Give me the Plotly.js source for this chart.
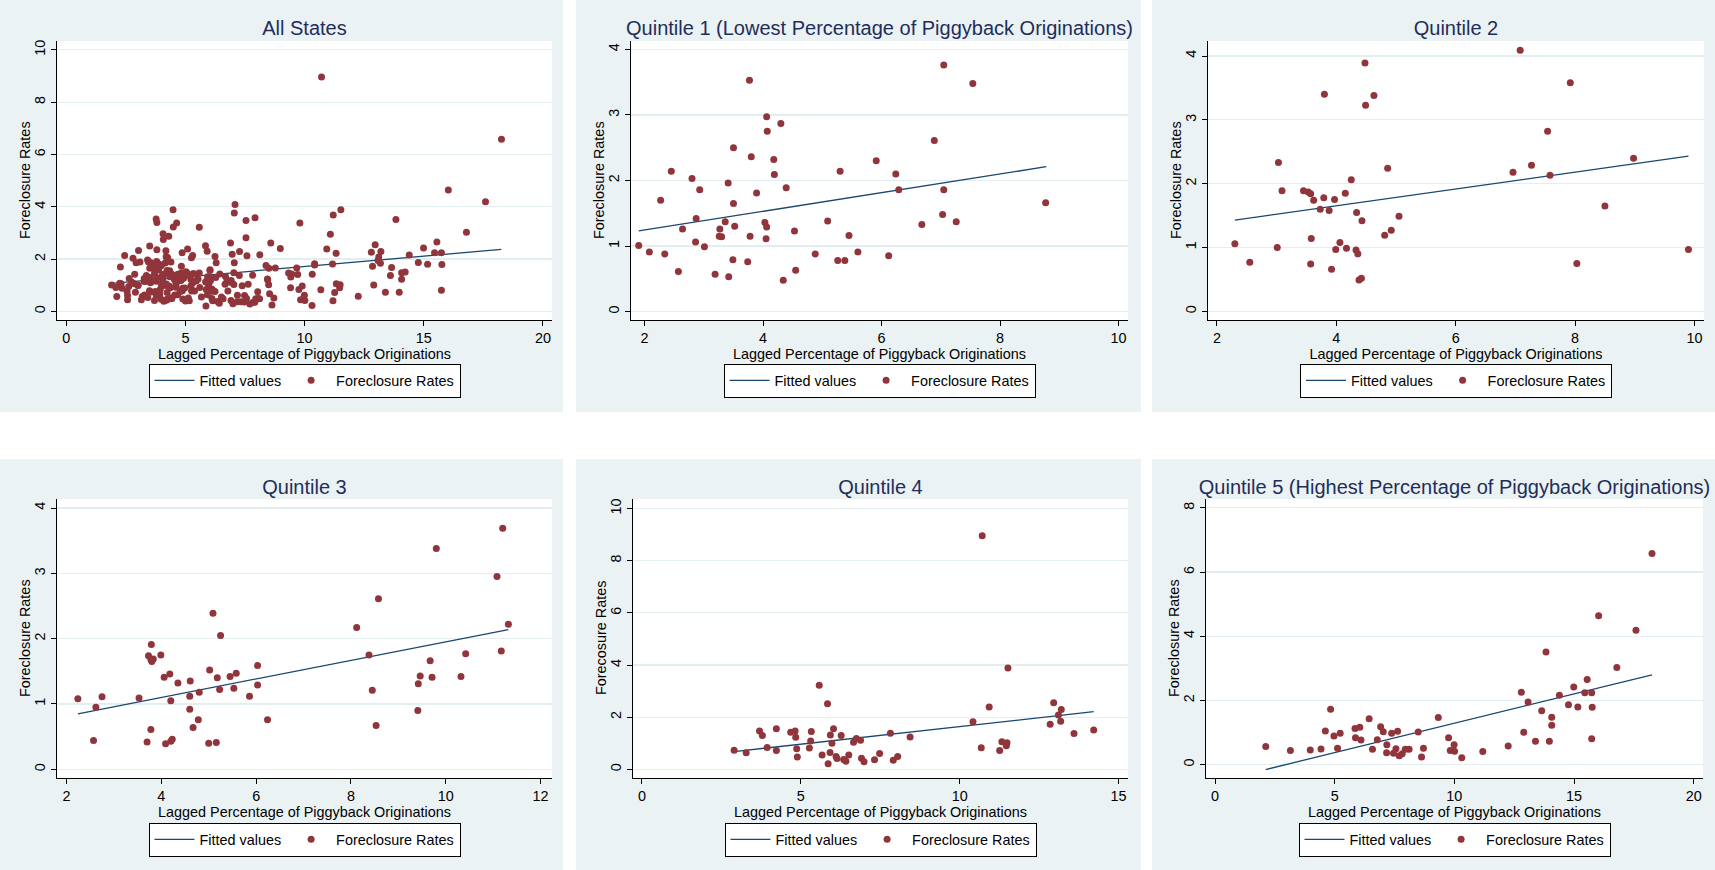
<!DOCTYPE html>
<html>
<head>
<meta charset="utf-8">
<script src="https://cdn.plot.ly/plotly-3.0.1.min.js"></script>
<style>
html,body{margin:0;padding:0;background:#ffffff;width:1715px;height:870px;overflow:hidden;}
.p{position:absolute;}
</style>
</head>
<body>
<div id="p1" class="p"></div>
<div id="p2" class="p"></div>
<div id="p3" class="p"></div>
<div id="p4" class="p"></div>
<div id="p5" class="p"></div>
<div id="p6" class="p"></div>
<script>
// ---------------- DATA ----------------
const panelTitles = ["All States",
  "Quintile 1 (Lowest Percentage of Piggyback Originations)",
  "Quintile 2", "Quintile 3", "Quintile 4",
  "Quintile 5 (Highest Percentage of Piggyback Originations)"];
const xAxisTitle = "Lagged Percentage of Piggyback Originations";
const yAxisTitles = ["Foreclosure Rates", "Foreclosure Rates", "Foreclosure Rates",
  "Foreclosure Rates", "Forecosure Rates", "Foreclosure Rates"];
const legendNames = ["Fitted values", "Foreclosure Rates"];

const q1x = [1.90,2.08,2.27,2.34,2.45,2.57,2.64,2.80,2.86,2.87,2.93,3.01,3.19,3.27,3.26,3.30,3.36,3.41,3.42,3.49,3.50,3.50,3.52,3.74,3.77,3.78,3.80,3.89,4.03,4.06,4.05,4.06,4.07,4.18,4.19,4.30,4.34,4.39,4.53,4.55,4.88,5.09,5.26,5.30,5.38,5.45,5.60,5.91,6.12,6.24,6.29,6.68,6.89,7.03,7.05,7.05,7.26,7.54,8.77];
const q1y = [1.01,0.91,1.70,0.88,2.14,0.61,1.26,2.03,1.06,1.42,1.86,0.99,0.57,1.26,1.15,1.14,1.37,1.96,0.53,0.79,1.65,2.50,1.30,0.76,3.53,1.15,2.36,1.81,1.36,1.29,1.11,2.97,2.75,2.32,2.09,2.87,0.48,1.89,1.23,0.63,0.88,1.38,0.78,2.14,0.78,1.16,0.91,2.30,0.85,2.10,1.86,1.33,2.61,1.48,1.86,3.76,1.37,3.48,1.66];

const q2x = [2.30,2.55,3.01,3.03,3.09,3.45,3.53,3.57,3.58,3.57,3.62,3.73,3.79,3.80,3.88,3.92,3.97,3.99,4.06,4.15,4.17,4.25,4.33,4.34,4.36,4.38,4.42,4.43,4.48,4.49,4.63,4.81,4.86,4.92,5.05,6.96,7.08,7.27,7.54,7.58,7.92,8.03,8.50,8.98,9.90];
const q2y = [1.06,0.77,1.00,2.33,1.89,1.89,1.87,1.84,1.14,0.74,1.74,1.60,1.78,3.40,1.58,0.66,1.75,0.97,1.08,1.85,0.99,2.06,0.96,1.55,0.90,0.49,0.52,1.42,3.89,3.23,3.38,1.19,2.24,1.27,1.49,2.18,4.09,2.29,2.82,2.13,3.58,0.75,1.65,2.40,0.97];

const q3x = [2.24,2.57,2.62,2.75,3.53,3.70,3.73,3.78,3.79,3.80,3.83,3.78,3.99,4.06,4.09,4.18,4.20,4.20,4.23,4.35,4.61,4.60,4.60,4.67,4.78,4.80,5.00,5.02,5.09,5.16,5.18,5.23,5.25,5.45,5.53,5.58,5.86,6.03,6.03,6.24,8.12,8.38,8.45,8.53,8.58,9.41,9.42,9.46,9.67,9.71,9.80,10.32,10.42,11.08,11.17,11.20,11.32];
const q3y = [1.08,0.44,0.95,1.11,1.09,0.42,1.74,0.61,1.91,1.65,1.69,1.68,1.75,1.41,0.39,1.46,1.05,0.43,0.46,1.32,1.35,1.12,0.92,0.64,0.76,1.18,0.40,1.52,2.39,0.41,1.40,1.22,2.05,1.42,1.24,1.47,1.12,1.29,1.59,0.76,2.17,1.75,1.21,0.67,2.61,0.90,1.31,1.43,1.66,1.41,3.38,1.42,1.77,2.95,1.81,3.69,2.22];

const q4x = [2.90,3.28,3.70,3.79,3.94,4.23,4.23,4.68,4.82,4.84,4.87,4.89,5.27,5.31,5.33,5.58,5.67,5.84,5.86,5.92,5.93,5.98,6.03,6.11,6.14,6.27,6.35,6.42,6.51,6.66,6.75,6.88,6.91,6.99,7.32,7.48,7.82,7.91,8.05,8.44,10.42,10.68,10.71,10.93,11.26,11.33,11.47,11.49,11.52,12.85,12.96,13.11,13.18,13.20,13.60,14.22];
const q4y = [0.73,0.63,1.47,1.30,0.84,1.56,0.72,1.42,1.47,1.23,0.79,0.47,0.82,1.09,1.45,3.22,0.55,2.51,0.21,0.64,1.32,1.00,1.56,0.49,0.41,1.30,0.38,0.31,0.55,1.04,1.18,1.11,0.42,0.29,0.37,0.61,1.38,0.35,0.49,1.24,1.82,0.83,8.96,2.39,0.72,1.06,0.90,1.02,3.89,1.73,2.55,2.08,1.84,2.29,1.37,1.51];

const q5x = [2.12,3.15,3.98,4.43,4.61,4.83,4.97,5.12,5.23,5.85,5.87,6.05,6.10,6.44,6.58,6.78,6.92,7.03,7.18,7.17,7.38,7.46,7.56,7.63,7.70,7.82,7.95,8.11,8.49,8.63,8.71,9.33,9.76,9.83,9.99,10.01,10.31,11.19,12.25,12.80,12.90,13.08,13.39,13.65,13.83,13.97,14.07,14.07,14.39,14.77,14.99,15.16,15.45,15.55,15.74,15.76,15.74,16.03,16.79,17.59,18.26];
const q5y = [0.57,0.44,0.46,0.49,1.05,1.73,0.89,0.51,0.98,1.13,0.84,1.17,0.77,1.43,0.48,0.78,1.18,1.03,0.62,0.37,0.98,0.36,0.50,1.04,0.28,0.34,0.48,0.48,1.02,0.24,0.51,1.47,0.84,0.44,0.62,0.42,0.22,0.41,0.58,2.26,1.01,1.95,0.73,1.68,3.51,0.73,1.48,1.23,2.16,1.87,2.42,1.80,2.24,2.65,2.24,1.79,0.81,4.64,3.03,4.19,6.58];

// All States = pooled observations of the five quintiles
const allX = [].concat(q1x, q2x, q3x, q4x, q5x);
const allY = [].concat(q1y, q2y, q3y, q4y, q5y);

// fitted-value line end points
const allFitX = [1.90, 18.25], allFitY = [1.07, 2.37];
const q1FitX = [1.90, 8.78],  q1FitY = [1.23, 2.21];
const q2FitX = [2.30, 9.90],  q2FitY = [1.43, 2.43];
const q3FitX = [2.24, 11.32], q3FitY = [0.85, 2.14];
const q4FitX = [2.90, 14.22], q4FitY = [0.68, 2.21];
const q5FitX = [2.12, 18.26], q5FitY = [-0.15, 2.80];

// tick values
const xTicks = [[0,5,10,15,20],[2,4,6,8,10],[2,4,6,8,10],[2,4,6,8,10,12],[0,5,10,15],[0,5,10,15,20]];
const yTicks = [[0,2,4,6,8,10],[0,1,2,3,4],[0,1,2,3,4],[0,1,2,3,4],[0,2,4,6,8,10],[0,2,4,6,8]];

// ---------------- STYLE / LAYOUT ----------------
const FONT = 'Liberation Sans, Arial, Helvetica, sans-serif';
const BG = '#eaf2f3';
const NAVY = '#1a476f';
const MAROON = '#90353b';
const TITLE_COLOR = '#1f2d5c';

const panels = [
  {id:'p1', left:0,    top:0,   w:563, h:412, m:{l:57,r:11,t:41,b:92}, xr:[-0.39,20.38], yr:[-0.33,10.34], fx:allFitX, fy:allFitY, px:allX, py:allY},
  {id:'p2', left:576,  top:0,   w:565, h:412, m:{l:55,r:13,t:41,b:92}, xr:[1.77,10.16],  yr:[-0.128,4.127], fx:q1FitX, fy:q1FitY, px:q1x, py:q1y},
  {id:'p3', left:1152, top:0,   w:563, h:412, m:{l:56,r:11,t:41,b:92}, xr:[1.85,10.16],  yr:[-0.136,4.235], fx:q2FitX, fy:q2FitY, px:q2x, py:q2y},
  {id:'p4', left:0,    top:459, w:563, h:411, m:{l:57,r:11,t:40,b:92}, xr:[1.80,12.24],  yr:[-0.133,4.138], fx:q3FitX, fy:q3FitY, px:q3x, py:q3y},
  {id:'p5', left:576,  top:459, w:565, h:411, m:{l:57,r:13,t:40,b:92}, xr:[-0.283,15.3], yr:[-0.334,10.37], fx:q4FitX, fy:q4FitY, px:q4x, py:q4y},
  {id:'p6', left:1152, top:459, w:563, h:411, m:{l:54,r:12,t:40,b:92}, xr:[-0.376,20.39], yr:[-0.414,8.274], fx:q5FitX, fy:q5FitY, px:q5x, py:q5y}
];

panels.forEach((p, i) => {
  const el = document.getElementById(p.id);
  el.style.left = p.left + 'px';
  el.style.top = p.top + 'px';
  el.style.width = p.w + 'px';
  el.style.height = p.h + 'px';

  const traces = [
    {type:'scatter', mode:'lines', x:p.fx, y:p.fy, name:legendNames[0],
     line:{color:NAVY, width:1.3}, hoverinfo:'skip'},
    {type:'scatter', mode:'markers', x:p.px, y:p.py, name:legendNames[1],
     marker:{color:MAROON, size:7, line:{width:0}}, hoverinfo:'skip'}
  ];

  const layout = {
    width:p.w, height:p.h,
    margin:{l:p.m.l, r:p.m.r, t:p.m.t, b:p.m.b, pad:0},
    paper_bgcolor:BG, plot_bgcolor:'#ffffff',
    font:{family:FONT, size:14.4, color:'#000000'},
    title:{text:panelTitles[i], font:{family:FONT, size:20, color:TITLE_COLOR},
           x:0.5, xref:'paper', xanchor:'center', y:1 - 28/p.h, yref:'container', yanchor:'middle'},
    showlegend:true,
    legend:{orientation:'h', x:0.5, xref:'paper', xanchor:'center',
            y:1 - 363.5/p.h, yref:'container', yanchor:'top',
            bgcolor:'#ffffff', bordercolor:'#000000', borderwidth:1,
            font:{family:FONT, size:14.4, color:'#000000'}, traceorder:'normal', itemwidth:40},
    annotations:[{text:yAxisTitles[i], xref:'paper', yref:'paper', x:0, y:0.5,
                  xanchor:'center', yanchor:'middle', xshift:-32.5, textangle:-90,
                  showarrow:false, font:{family:FONT, size:14.4, color:'#000'}}],
    xaxis:{range:p.xr, tickvals:xTicks[i], ticktext:xTicks[i].map(String),
           ticks:'outside', ticklen:5, tickcolor:'#000', tickwidth:1,
           showline:true, linecolor:'#000', linewidth:1, mirror:false,
           showgrid:false, zeroline:false, automargin:false, fixedrange:true,
           tickfont:{family:FONT, size:14.4, color:'#000'},
           title:{text:xAxisTitle, standoff:2, font:{family:FONT, size:14.4, color:'#000'}}},
    yaxis:{range:p.yr, tickvals:yTicks[i], ticktext:yTicks[i].map(String), tickangle:-90,
           ticks:'outside', ticklen:5, tickcolor:'#000', tickwidth:1,
           showline:true, linecolor:'#000', linewidth:1, mirror:false,
           showgrid:true, gridcolor:'#e3eef0', gridwidth:1.2, zeroline:false,
           automargin:false, fixedrange:true,
           tickfont:{family:FONT, size:14.4, color:'#000'}},
    hovermode:false
  };
  Plotly.newPlot(el, traces, layout, {staticPlot:true, displayModeBar:false});
});
</script>
</body>
</html>
